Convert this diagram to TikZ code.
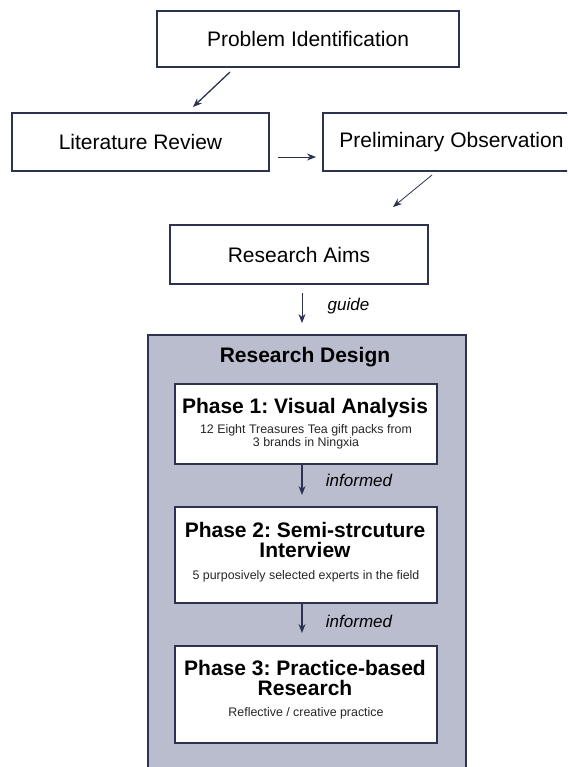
\documentclass[tikz,border=0pt]{standalone}
\usepackage{fontspec}
\setmainfont{Liberation Sans}
\usetikzlibrary{arrows.meta}
\frenchspacing
\definecolor{navy}{HTML}{2B3350}
\definecolor{panel}{HTML}{B9BDCE}
\tikzset{
  box/.style={draw=navy, line width=2pt, fill=white, inner sep=0pt},
  topbox/.style={box, font=\fontsize{21}{24}\selectfont},
  arr/.style={draw=navy, line width=1pt, -{Stealth[length=9pt,width=7pt]}},
  lbl/.style={font=\fontsize{17}{20}\itshape\selectfont, text=black},
  ptitle/.style={font=\fontsize{21}{20}\bfseries\selectfont, align=center, inner sep=0pt},
  psub/.style={font=\fontsize{12.4}{13.2}\selectfont, align=center, inner sep=0pt, text=black!85}
}
\begin{document}
\begin{tikzpicture}[x=1pt,y=-1pt]
\useasboundingbox (0,0) rectangle (567,767);
\clip (0,0) rectangle (567,767);
% top boxes
\node[topbox, minimum width=302pt, minimum height=56pt] (pi) at (308,39) {Problem Identification};
\node[topbox, minimum width=257pt, minimum height=58pt] (lr) at (140.5,142) {Literature Review};
\node[topbox, minimum width=257pt, minimum height=58pt] (po) at (451.5,142) {Preliminary Observation};
\node[topbox, minimum width=258pt, minimum height=59pt] (ra) at (299,254.5) {Research Aims};
% research design panel
\node[draw=navy, line width=2pt, fill=panel, minimum width=318.5pt, minimum height=460pt, inner sep=0pt, anchor=north] (rd) at (306.75,334) {};
\node[font=\fontsize{21}{24}\bfseries\selectfont, inner sep=0pt] (rdt) at (305,357) {Research Design};
% phases
\node[box, minimum width=262pt, minimum height=80pt, anchor=north] (p1) at (306,383) {};
\node[box, minimum width=262pt, minimum height=96pt, anchor=north] (p2) at (306,506) {};
\node[box, minimum width=262pt, minimum height=97pt, anchor=north] (p3) at (306,645) {};
\node[ptitle] (p1t) at (305,408) {Phase 1: Visual Analysis};
\node[psub] (p1s) at (306,436.5) {12 Eight Treasures Tea gift packs from\\3 brands in Ningxia};
\node[ptitle] (p2t) at (305,540) {Phase 2: Semi-strcuture\\Interview};
\node[psub] (p2s) at (306,576) {5 purposively selected experts in the field};
\node[ptitle] (p3t) at (305,677.5) {Phase 3: Practice-based\\Research};
\node[psub] (p3s) at (306,713) {Reflective / creative practice};
% connectors
\draw[arr, line width=1.3pt] ([xshift=-78pt,yshift=-4pt]pi.south) -- ([xshift=52.5pt,yshift=5pt]lr.north);
\draw[arr, line width=0.8pt] ([xshift=8pt,yshift=-15pt]lr.east) -- ([xshift=-6pt,yshift=-15pt]po.west);
\draw[arr, line width=0.8pt] ([xshift=-19.5pt,yshift=-3pt]po.south) -- ([xshift=94pt,yshift=17pt]ra.north);
\draw[arr, line width=0.8pt] ([xshift=3pt,yshift=-8pt]ra.south) -- ([xshift=-4.75pt,yshift=11pt]rd.north) node[lbl, pos=0.45, right=22pt] (lg) {guide};
\draw[arr, line width=1.2pt] ([xshift=-4pt]p1.south) -- ([xshift=-4pt,yshift=11pt]p2.north) node[lbl, pos=0.5, right=20pt] (li1) {informed};
\draw[arr, line width=1.2pt] ([xshift=-4pt]p2.south) -- ([xshift=-4pt,yshift=12pt]p3.north) node[lbl, pos=0.6, right=20pt] (li2) {informed};
\end{tikzpicture}
\end{document}
